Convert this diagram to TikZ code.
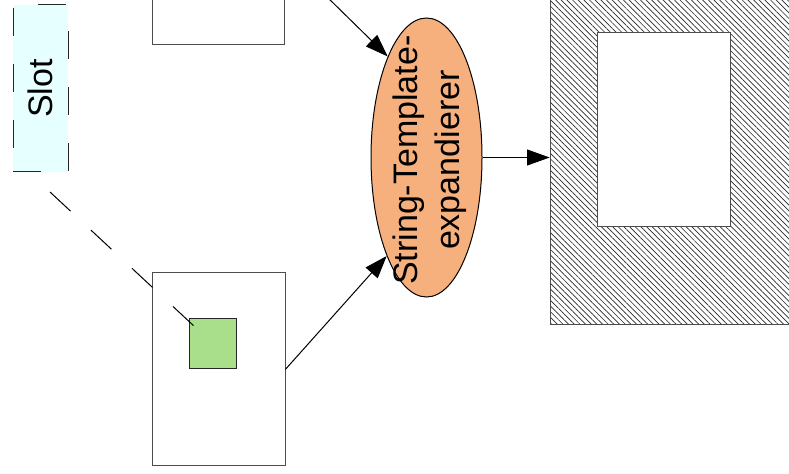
\documentclass[tikz,border=0pt]{standalone}
\usepackage{fontspec}
\setmainfont{Liberation Sans}
\usetikzlibrary{arrows.meta,patterns.meta,shapes.geometric}

\definecolor{slotfill}{RGB}{230,255,255}
\definecolor{expfill}{RGB}{246,176,126}
\definecolor{slotgreen}{RGB}{169,223,138}
\definecolor{hatchgray}{RGB}{40,40,40}

\tikzset{
  every picture/.style={line width=0.75pt},
  bigtext/.style={font=\fontsize{25.5}{32}\selectfont},
  box/.style={draw=black!70, fill=white, inner sep=0pt},
  slotbox/.style={draw=black!85, fill=slotfill, dash pattern=on 21pt off 21pt, inner sep=0pt},
  slotmark/.style={draw=black!85, fill=slotgreen, inner sep=0pt},
  expander/.style={ellipse, draw=black, fill=expfill, inner sep=0pt},
  hatched/.style={draw=black!70, pattern={Lines[angle=-45,distance=3pt,line width=0.5pt]}, pattern color=hatchgray},
  flow/.style={-{Triangle[length=17pt,width=12pt]}},
  slotlink/.style={dash pattern=on 21pt off 21pt},
}

\begin{document}
\begin{tikzpicture}[x=0.75pt,y=0.75pt,yscale=-1,xscale=1]
\clip (0,0) rectangle (789,474);

%Output page, hatched, with its white text area
\node[hatched, minimum width=195pt, minimum height=258pt] (out) at (680,152) {};
\node[box, minimum width=99.75pt, minimum height=145.5pt] (page) at (663.5,130) {};

%Template page (top) and document page with the slot (bottom)
\node[box, minimum width=99pt, minimum height=48.75pt] (tpl) at (218,12.5) {};
\node[box, minimum width=99.75pt, minimum height=145pt] (doc) at (218.5,369.3) {};
\node[slotmark, minimum width=34.9pt, minimum height=37.5pt] (slotinst) at (213.25,343) {};

%Slot
\node[slotbox, minimum width=41.25pt, minimum height=125.25pt,
      label={[bigtext,rotate=90]center:Slot}] (slot) at (40.5,88.5) {};

%Expander
\node[expander, minimum width=83.25pt, minimum height=209.25pt,
      label={[bigtext,rotate=90,align=center,xshift=-2pt,yshift=-2.5pt]center:String-Template-\\expandierer}] (exp) at (426.5,157.5) {};

\coordinate (src) at (322,-8);
\coordinate (slotref) at (50,192);

%Arrows
\draw[flow] (src) -- (exp.111);
\draw[flow] (doc.east) -- (exp.248);
\draw[flow] (exp.east) -- (exp.east -| out.west);
\draw[slotlink] (slotref) -- ([shift={(5,9)}]slotinst.north west);

\end{tikzpicture}
\end{document}
